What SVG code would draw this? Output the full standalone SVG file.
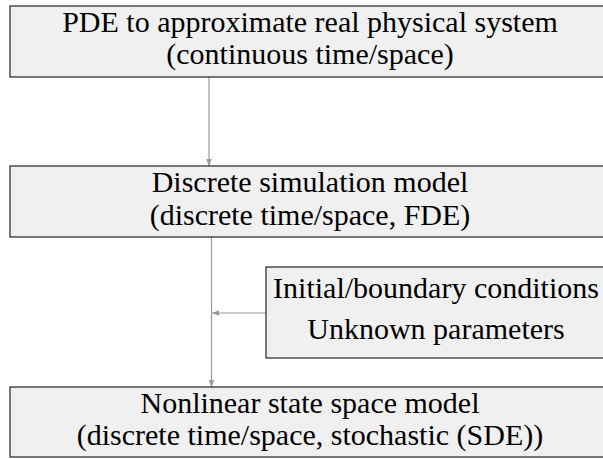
<svg xmlns="http://www.w3.org/2000/svg" width="603" height="459" viewBox="0 0 603 459">
<style>
.box{fill:#f0f0f0;stroke:#222;stroke-width:1.2}
.t{font-family:'Liberation Serif','Times New Roman','DejaVu Serif',serif;font-size:30px;fill:#000;text-anchor:middle}
.c{stroke:#999;stroke-width:1.2;fill:none}
</style>
<defs>
<marker id="ah" viewBox="0 0 10 10" refX="10" refY="5" markerWidth="7" markerHeight="7" markerUnits="userSpaceOnUse" orient="auto">
<path d="M0,1 L10,5 L0,9 z" fill="#999"/>
</marker>
</defs>
<rect width="603" height="459" fill="#fff"/>
<g id="connectors">
<line class="c" x1="209" y1="77" x2="209" y2="166" marker-end="url(#ah)"/>
<line class="c" x1="211.5" y1="237" x2="211.5" y2="387" marker-end="url(#ah)"/>
<line class="c" x1="266" y1="313" x2="212" y2="313" marker-end="url(#ah)"/>
</g>
<g id="pde">
<rect class="box" x="10" y="6" width="600" height="71"/>
<text class="t" x="310" y="32">PDE to approximate real physical system</text>
<text class="t" x="310" y="64">(continuous time/space)</text>
</g>
<g id="discrete">
<rect class="box" x="10" y="166" width="600" height="71"/>
<text class="t" x="310" y="192">Discrete simulation model</text>
<text class="t" x="310" y="225">(discrete time/space, FDE)</text>
</g>
<g id="conditions">
<rect class="box" x="266" y="267" width="344" height="91"/>
<text class="t" x="436" y="298">Initial/boundary conditions</text>
<text class="t" x="436" y="339">Unknown parameters</text>
</g>
<g id="statespace">
<rect class="box" x="10" y="387" width="600" height="70"/>
<text class="t" x="310" y="413">Nonlinear state space model</text>
<text class="t" x="310" y="445">(discrete time/space, stochastic (SDE))</text>
</g>
</svg>
